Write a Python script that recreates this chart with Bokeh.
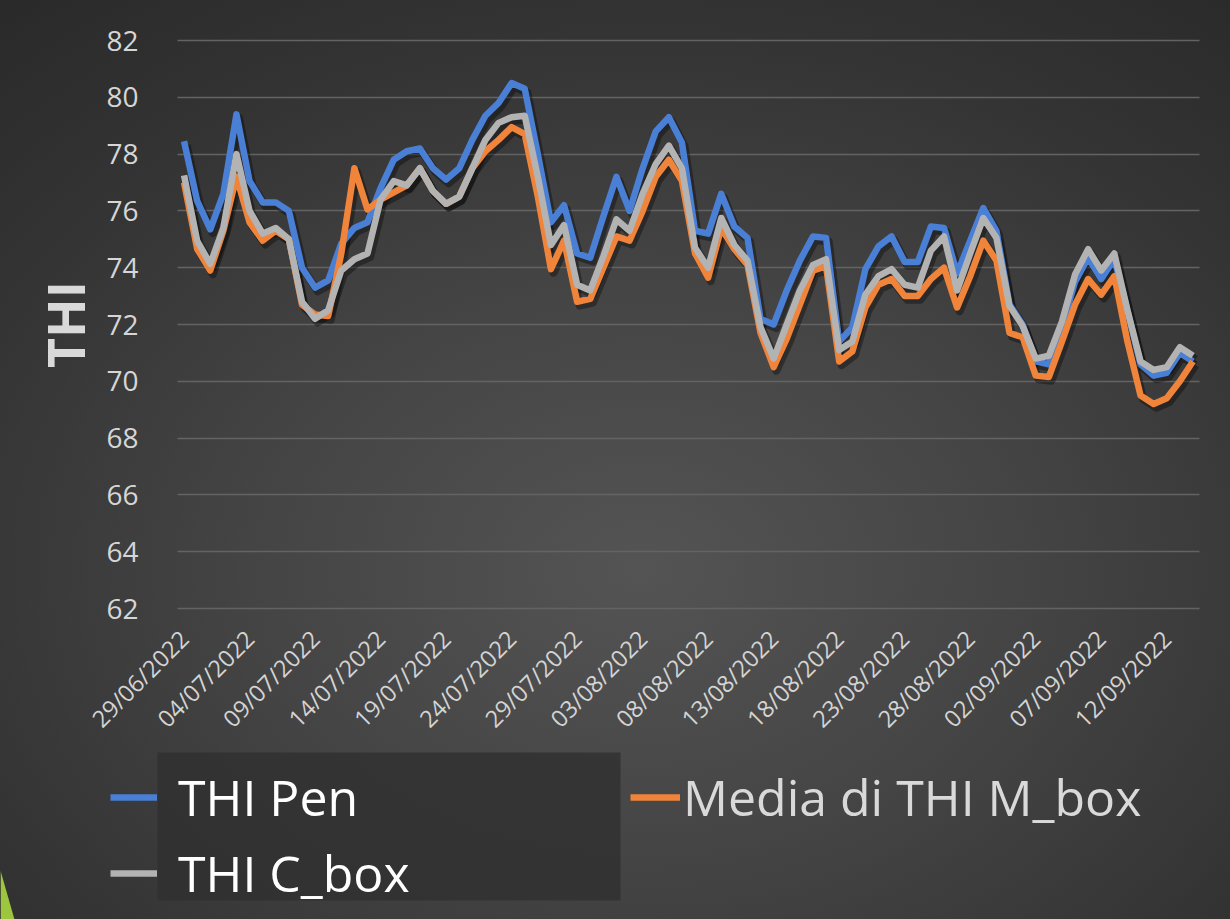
import math

import pandas as pd
from bokeh.embed import file_html
from bokeh.models import (BoxAnnotation, ColumnDataSource, FixedTicker, Legend,
                          LegendItem, PolyAnnotation, Range1d)
from bokeh.plotting import figure
from bokeh.resources import INLINE
from bokeh.transform import dodge

# --- data -------------------------------------------------------------------
start_date = "2022-06-29"
n_days = 78
dates = pd.date_range(start_date, periods=n_days, freq="D").strftime("%d/%m/%Y").tolist()
label_every = 5

thi_pen = [78.45, 76.35, 75.35, 76.6, 79.4, 77.05, 76.3, 76.3, 76.0, 74.0,
           73.3, 73.55, 74.85, 75.4, 75.6, 76.8, 77.8, 78.1, 78.2, 77.5,
           77.1, 77.5, 78.5, 79.35, 79.8, 80.5, 80.3, 78.0, 75.6, 76.2,
           74.5, 74.35, 75.8, 77.2, 76.0, 77.5, 78.8, 79.3, 78.4, 75.3,
           75.2, 76.6, 75.45, 75.05, 72.2, 72.0, 73.2, 74.25, 75.1, 75.05,
           71.4, 71.9, 73.95, 74.75, 75.1, 74.2, 74.2, 75.45, 75.4, 73.8,
           74.95, 76.1, 75.3, 72.7, 72.0, 70.7, 70.6, 71.9, 73.5, 74.35,
           73.6, 74.3, 72.5, 70.6, 70.2, 70.3, 71.0, 70.7]

thi_m_box = [77.0, 74.66, 73.9, 75.3, 77.2, 75.6, 74.95, 75.3, 75.0, 72.7,
             72.35, 72.3, 74.5, 77.5, 76.05, 76.4, 76.65, 76.9, 77.5, 76.7,
             76.25, 76.5, 77.5, 78.1, 78.5, 78.95, 78.7, 76.5, 73.95, 74.95,
             72.8, 72.9, 74.0, 75.1, 74.95, 76.0, 77.2, 77.8, 77.05, 74.5,
             73.65, 75.4, 74.65, 74.1, 71.7, 70.5, 71.5, 72.7, 73.9, 74.05,
             70.7, 71.05, 72.6, 73.4, 73.6, 73.0, 73.0, 73.6, 74.0, 72.6,
             73.7, 74.95, 74.25, 71.7, 71.55, 70.2, 70.15, 71.4, 72.7, 73.6,
             73.05, 73.7, 71.4, 69.5, 69.2, 69.4, 70.0, 70.7]

thi_c_box = [77.25, 74.95, 74.13, 75.4, 78.0, 76.0, 75.2, 75.4, 75.0, 72.8,
             72.2, 72.5, 73.9, 74.3, 74.5, 76.4, 77.05, 76.9, 77.5, 76.7,
             76.25, 76.5, 77.5, 78.5, 79.1, 79.3, 79.35, 77.2, 74.8, 75.5,
             73.4, 73.2, 74.4, 75.7, 75.3, 76.6, 77.65, 78.3, 77.5, 74.7,
             74.0, 75.75, 74.8, 74.25, 71.9, 70.8, 72.0, 73.2, 74.1, 74.3,
             71.1, 71.4, 73.05, 73.7, 73.95, 73.4, 73.3, 74.6, 75.1, 73.2,
             74.5, 75.75, 75.05, 72.65, 71.95, 70.8, 70.9, 72.1, 73.76, 74.65,
             73.9, 74.5, 72.5, 70.7, 70.4, 70.5, 71.2, 70.9]

series_names = ["THI Pen", "Media di THI M_box", "THI C_box"]
series_colors = ["#4a7fd6", "#f0843a", "#b3b3b3"]
y_min, y_max, y_step = 62, 82, 2
y_ticks = list(range(y_min, y_max + 1, y_step))

source = ColumnDataSource(dict(
    idx=list(range(n_days)), date=dates,
    pen=thi_pen, mbox=thi_m_box, cbox=thi_c_box,
))

# --- canvas geometry --------------------------------------------------------
# The frame fills the whole canvas; the chart body occupies the box below,
# the axes are pinned to its edges and the legend sits underneath it.
W, H = 1230, 919
body_left, body_right, body_top, body_bottom = 177, 1199, 40, 608
px_x = (body_right - body_left) / n_days
px_y = (body_bottom - body_top) / (y_max - y_min)
x_lo, x_hi = -0.5, n_days - 0.5
x_range = Range1d(x_lo - body_left / px_x, x_hi + (W - body_right) / px_x)
y_range = Range1d(y_min - (H - body_bottom) / px_y, y_max + body_top / px_y)

p = figure(
    width=W, height=H, x_range=x_range, y_range=y_range,
    output_backend="svg", toolbar_location=None,
    min_border=0,
)
p.background_fill_alpha = 0
p.border_fill_alpha = 0
p.outline_line_color = None
p.styles = {
    "background": "radial-gradient(ellipse 80% 80% at 52% 62%, "
                  "#545454 0%, #444444 40%, #333333 75%, #2a2a2a 100%)"
}

# --- horizontal gridlines, limited to the chart body ------------------------
p.xgrid.visible = False
ygrid = p.ygrid[0]
ygrid.ticker = FixedTicker(ticks=y_ticks)
ygrid.grid_line_color = "#636363"
ygrid.grid_line_width = 1.5
if "cross_bounds" in ygrid.properties():
    ygrid.cross_bounds = (x_lo, x_hi)
else:
    ygrid.visible = False
    p.segment(x0=[x_lo] * len(y_ticks), x1=[x_hi] * len(y_ticks),
              y0=y_ticks, y1=y_ticks, line_color="#636363", line_width=1.5)

# soft drop shadow under each series
for col in ["pen", "mbox", "cbox"]:
    p.line(x=dodge("idx", 0.2), y=dodge(col, -0.13), source=source,
           line_color="black", line_alpha=0.35, line_width=8,
           line_join="round")

renderers = []
for col, color in zip(["pen", "mbox", "cbox"], series_colors):
    r = p.line(x="idx", y=col, source=source, line_color=color,
               line_width=6.5, line_join="round")
    renderers.append(r)
r_pen, r_mbox, r_cbox = renderers

# --- axes -------------------------------------------------------------------
tick_idx = list(range(0, n_days, label_every))
xa = p.xaxis[0]
xa.fixed_location = y_min
xa.bounds = (x_lo, x_hi)
xa.ticker = FixedTicker(ticks=tick_idx)
xa.major_label_overrides = {i: dates[i] for i in tick_idx}
xa.major_label_orientation = math.pi / 4
xa.major_label_text_font = "Open Sans"
xa.major_label_text_font_size = "23.5px"
xa.major_label_text_color = "#d4d4d4"
xa.major_label_standoff = 20

ya = p.yaxis[0]
ya.fixed_location = x_lo
ya.bounds = (y_min, y_max)
ya.ticker = FixedTicker(ticks=y_ticks)
ya.major_label_text_font = "Open Sans"
ya.major_label_text_font_size = "28px"
ya.major_label_text_color = "#d6d6d6"
ya.major_label_standoff = 33
ya.axis_label = "THI"
ya.axis_label_text_font = "Open Sans"
ya.axis_label_text_font_style = "bold"
ya.axis_label_text_font_size = "52px"
ya.axis_label_text_color = "#d9d9d9"
ya.axis_label_standoff = 3

for ax in (xa, ya):
    ax.axis_line_color = None
    ax.major_tick_line_color = None
    ax.minor_tick_line_color = None

# --- legend -----------------------------------------------------------------
p.add_layout(BoxAnnotation(left=157, right=620, bottom=H - 900, top=H - 752,
                           left_units="screen", right_units="screen",
                           bottom_units="screen", top_units="screen",
                           fill_color="#2f2f2f", fill_alpha=0.8,
                           line_color=None))

legend_kw = dict(
    orientation="vertical", padding=0, margin=0, spacing=8,
    glyph_width=47, glyph_height=60, label_height=60,
    label_text_font="Open Sans", label_text_font_size="50px",
    background_fill_alpha=0, border_line_color=None,
)
legend_a = Legend(
    items=[LegendItem(label=series_names[0], renderers=[r_pen]),
           LegendItem(label=series_names[2], renderers=[r_cbox])],
    location=(110, H - 907), label_standoff=21, label_text_color="#ffffff",
    **legend_kw)
legend_b = Legend(
    items=[LegendItem(label=series_names[1], renderers=[r_mbox])],
    location=(630, H - 831), label_standoff=3, label_text_color="#d9d9d9",
    **legend_kw)
legend_b.glyph_width = 50
p.add_layout(legend_a)
p.add_layout(legend_b)

# green corner accent
p.add_layout(PolyAnnotation(xs=[0, 14, 0], ys=[H - 870, 0, 0],
                            xs_units="screen", ys_units="screen",
                            fill_color="#9cc63e", fill_alpha=1,
                            line_color=None))

open("out.html", "w").write(file_html(p, INLINE))
